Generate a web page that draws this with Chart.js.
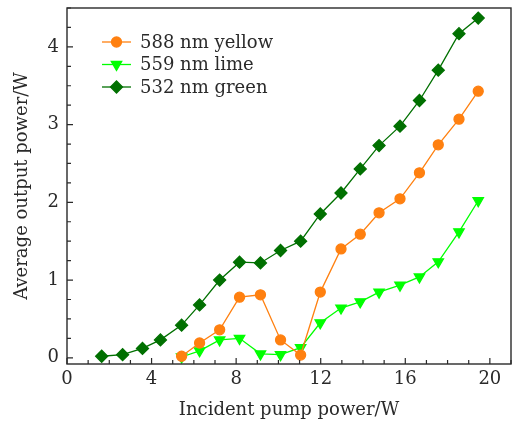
<!DOCTYPE html>
<html>
<head>
<meta charset="utf-8">
<script src="https://cdn.jsdelivr.net/npm/chart.js@4/dist/chart.umd.min.js"></script>
<style>
  html, body { margin: 0; padding: 0; background: #fff; }
  #wrap { width: 514px; height: 423px; }
</style>
</head>
<body>
<div id="wrap"><canvas id="chart"></canvas></div>
<script>
// incident pump power (W), shared by all three lines
const pumpPower = [1.64, 2.63, 3.57, 4.42, 5.42, 6.27, 7.22, 8.16, 9.15, 10.1,
                   11.05, 11.98, 12.96, 13.87, 14.76, 15.75, 16.67, 17.56, 18.54, 19.45];
// 588/559 nm series start at the 5th pump value
const yellowPower = [0.02, 0.19, 0.36, 0.78, 0.81, 0.23, 0.035, 0.845, 1.40, 1.59,
                     1.865, 2.045, 2.38, 2.74, 3.07, 3.43];
const limePower = [0.01, 0.09, 0.23, 0.25, 0.05, 0.04, 0.13, 0.45, 0.64, 0.72,
                   0.845, 0.935, 1.04, 1.235, 1.62, 2.02];
const greenPower = [0.02, 0.04, 0.12, 0.23, 0.42, 0.68, 1.0, 1.23, 1.22, 1.38,
                    1.50, 1.85, 2.12, 2.43, 2.73, 2.98, 3.31, 3.70, 4.17, 4.37];
const seriesLabels = ['588 nm yellow', '559 nm lime', '532 nm green'];
const xMajorTicks = [0, 4, 8, 12, 16, 20];
const yMajorTicks = [0, 1, 2, 3, 4];

const FONT = { family: '"DejaVu Serif", serif', size: 18 };
const INK = '#2a2a2a';

function toPoints(ys, offset) {
    return ys.map((y, i) => ({ x: pumpPower[i + offset], y: y }));
}

// no extra room for the end labels, keep the box where the original has it
function fixSize(prop, px) {
    return (scale) => {
        scale[prop] = px;
        scale.paddingTop = 0;
        scale.paddingBottom = 0;
        scale.paddingLeft = 0;
        scale.paddingRight = 0;
    };
}

// frame around the plot plus inward tick marks (from the scales' own ticks)
const framePlugin = {
    id: 'frame',
    afterDatasetsDraw(chart) {
        const { ctx, chartArea: a } = chart;
        const xs = chart.scales.x, ys = chart.scales.y;
        ctx.save();
        ctx.strokeStyle = INK;
        ctx.lineWidth = 1.2;
        ctx.beginPath();
        xs.ticks.forEach(t => {
            const px = xs.getPixelForValue(t.value);
            const len = xMajorTicks.includes(t.value) ? 6 : 4;
            ctx.moveTo(px, a.bottom);
            ctx.lineTo(px, a.bottom - len);
        });
        ys.ticks.forEach(t => {
            const py = ys.getPixelForValue(t.value);
            const len = yMajorTicks.includes(t.value) ? 6 : 4;
            ctx.moveTo(a.left, py);
            ctx.lineTo(a.left + len, py);
        });
        ctx.stroke();
        ctx.lineWidth = 1.4;
        ctx.strokeRect(a.left, a.top, a.right - a.left, a.bottom - a.top);
        ctx.restore();
    }
};

// legend inside the plot, line + marker like the original
const insideLegend = {
    id: 'insideLegend',
    afterDraw(chart) {
        const ctx = chart.ctx;
        const x0 = 102, x1 = 131, textX = 140;
        const rowY = [42, 64.5, 87];
        ctx.save();
        chart.data.datasets.forEach((ds, i) => {
            const y = rowY[i];
            ctx.strokeStyle = ds.borderColor;
            ctx.lineWidth = ds.borderWidth;
            ctx.beginPath();
            ctx.moveTo(x0, y);
            ctx.lineTo(x1, y);
            ctx.stroke();
            ctx.fillStyle = ds.pointBackgroundColor;
            ctx.strokeStyle = ds.pointBackgroundColor;
            Chart.helpers.drawPoint(ctx, {
                pointStyle: ds.pointStyle,
                radius: ds.pointRadius,
                rotation: ds.pointRotation || 0,
                borderWidth: 0.5
            }, (x0 + x1) / 2, y);
            ctx.fillStyle = INK;
            ctx.font = FONT.size + 'px ' + FONT.family;
            ctx.textBaseline = 'middle';
            ctx.textAlign = 'left';
            ctx.fillText(ds.label, textX, y + 1);
        });
        ctx.restore();
    }
};

new Chart(document.getElementById('chart'), {
    type: 'line',
    data: {
        datasets: [{
            label: seriesLabels[0],
            data: toPoints(yellowPower, 4),
            borderColor: '#ff8010',
            pointBackgroundColor: '#ff8010',
            pointBorderColor: '#ff8010',
            borderWidth: 1.3,
            pointStyle: 'circle',
            pointRadius: 5,
        }, {
            label: seriesLabels[1],
            data: toPoints(limePower, 4),
            borderColor: '#00ff00',
            pointBackgroundColor: '#00ff00',
            pointBorderColor: '#00ff00',
            borderWidth: 1.3,
            pointStyle: 'triangle',
            pointRotation: 180,
            pointRadius: 6,
        }, {
            label: seriesLabels[2],
            data: toPoints(greenPower, 0),
            borderColor: '#007000',
            pointBackgroundColor: '#007000',
            pointBorderColor: '#007000',
            borderWidth: 1.3,
            pointStyle: 'rectRot',
            pointRadius: 6,
        }],
    },
    options: {
        responsive: true,
        maintainAspectRatio: false,
        animation: false,
        events: [],
        layout: { autoPadding: false, padding: { top: 8, right: 3, left: 0, bottom: 0 } },
        plugins: {
            legend: { display: false },
            tooltip: { enabled: false },
        },
        scales: {
            x: {
                type: 'linear',
                min: 0,
                max: 21,
                afterFit: fixSize('height', 59),
                border: { display: false },
                grid: { drawOnChartArea: false, drawTicks: false },
                ticks: {
                    stepSize: 1,
                    includeBounds: false,
                    autoSkip: false,
                    maxRotation: 0,
                    padding: 5,
                    color: INK,
                    font: FONT,
                    callback: (v) => xMajorTicks.includes(v) ? String(v) : '',
                },
                title: {
                    display: true,
                    text: 'Incident pump power/W',
                    color: INK,
                    font: FONT,
                    padding: { top: 0, bottom: 2 },
                },
            },
            y: {
                min: -0.08,
                max: 4.5,
                afterFit: fixSize('width', 67),
                border: { display: false },
                grid: { drawOnChartArea: false, drawTicks: false },
                ticks: {
                    stepSize: 0.25,
                    includeBounds: false,
                    autoSkip: false,
                    padding: 8,
                    color: INK,
                    font: FONT,
                    callback: (v) => yMajorTicks.includes(v) ? String(v) : '',
                },
                title: {
                    display: true,
                    text: 'Average output power/W',
                    color: INK,
                    font: FONT,
                    padding: { top: 12, bottom: 0 },
                },
            },
        },
    },
    plugins: [framePlugin, insideLegend],
});
</script>
</body>
</html>
